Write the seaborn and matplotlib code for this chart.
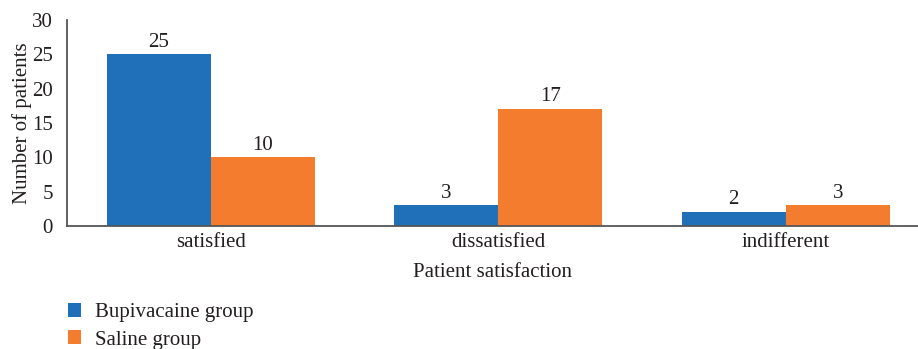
import matplotlib
matplotlib.use("Agg")
import matplotlib.pyplot as plt
import seaborn as sns
import pandas as pd
from matplotlib.patches import Patch

categories = ["satisfied", "dissatisfied", "indifferent"]
groups = ["Bupivacaine group", "Saline group"]
bupivacaine = [25, 3, 2]
saline = [10, 17, 3]
colors = ["#1F70B8", "#F47C2F"]

df = pd.DataFrame({
    "category": categories * 2,
    "group": [groups[0]] * 3 + [groups[1]] * 3,
    "value": bupivacaine + saline,
})

sns.set_style("white")
plt.rcParams["font.family"] = ["Liberation Serif", "DejaVu Serif"]
plt.rcParams["font.size"] = 15

fig = plt.figure(figsize=(9.18, 3.49), dpi=100)
ax = fig.add_axes([67 / 918, 1 - 226 / 349, 1 - 67 / 918, (226 - 20) / 349])

sns.barplot(data=df, x="category", y="value", hue="group", order=categories,
            hue_order=groups, palette=colors, width=0.724, saturation=1,
            ax=ax, legend=False, edgecolor="none")

for container in ax.containers:
    ax.bar_label(container, padding=2, fontsize=15, color="#231F20")

ax.set_ylim(0, 30)
ax.set_yticks(range(0, 31, 5))
ax.set_xlim(-0.5, 2.46)
ax.tick_params(axis="both", length=0, labelsize=15, colors="#231F20")
ax.tick_params(axis="x", pad=5)
ax.tick_params(axis="y", pad=10)
ax.set_xlabel("Patient satisfaction", fontsize=15, color="#231F20", labelpad=8)
ax.set_ylabel("Number of patients", fontsize=15, color="#231F20", labelpad=0)

for side in ["top", "right"]:
    ax.spines[side].set_visible(False)
for side in ["left", "bottom"]:
    ax.spines[side].set_color("#555555")
    ax.spines[side].set_linewidth(1.3)

handles = [Patch(facecolor=c, edgecolor="none") for c in colors]
fig.legend(handles, groups, loc="upper left", bbox_to_anchor=(49 / 918, 1 - 284 / 349),
           frameon=False, fontsize=15, handlelength=0.65, handleheight=0.65,
           handletextpad=0.65, labelspacing=0.4, labelcolor="#231F20")

fig.savefig("out.png", dpi=100)
